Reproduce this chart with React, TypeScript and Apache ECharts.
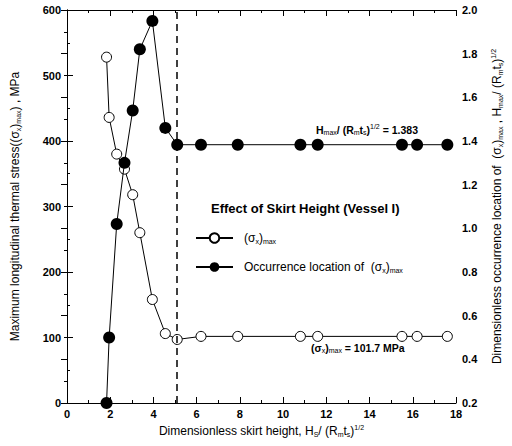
import React, { useEffect, useRef } from "react";
import * as echarts from "echarts";

// Dimensionless skirt height Hs/(Rm ts)^1/2
const skirtHeight = [1.83, 1.95, 2.3, 2.66, 3.04, 3.37, 3.95, 4.55, 5.1, 6.2, 7.9, 10.8, 11.6, 15.5, 16.2, 17.6];
// Maximum longitudinal thermal stress (MPa)
const stressMax = [528, 436, 380, 357, 318, 260, 158, 106, 97, 101.7, 101.7, 101.7, 101.7, 101.7, 101.7, 101.7];
// Dimensionless occurrence location Hmax/(Rm ts)^1/2
const locationMax = [0.2, 0.5, 1.02, 1.3, 1.54, 1.82, 1.95, 1.46, 1.383, 1.383, 1.383, 1.383, 1.383, 1.383, 1.383, 1.383];
const optimumHeight = 5.1;

const FONT = "Liberation Sans, Arial, Helvetica, sans-serif";

const rich = {
  sub: { fontSize: 7, lineHeight: 8, verticalAlign: "bottom", fontFamily: FONT, color: "#000" },
  sup: { fontSize: 7, lineHeight: 8, verticalAlign: "top", fontFamily: FONT, color: "#000" },
};

export default function App() {
  const ref = useRef<HTMLDivElement>(null);
  useEffect(() => {
    const chart = echarts.init(ref.current!, null, { renderer: "svg" });
    const stressData = skirtHeight.map((x, i) => [x, stressMax[i]]);
    const locData = skirtHeight.map((x, i) => [x, locationMax[i]]);
    const tickLabel = { color: "#000", fontFamily: FONT, fontSize: 11, fontWeight: "bold" as const };
    const axisLine = { show: true, lineStyle: { color: "#000", width: 1 } };
    const nameStyle = { color: "#000", fontFamily: FONT, fontSize: 12, lineHeight: 14, rich };
    chart.setOption({
      animation: false,
      backgroundColor: "#fff",
      grid: { left: 66, right: 50, top: 10, bottom: 43, show: false },
      title: {
        text: "Effect of Skirt Height (Vessel I)",
        left: 211,
        top: 202,
        padding: 0,
        textStyle: { fontFamily: FONT, fontSize: 13, fontWeight: "bold", color: "#000" },
      },
      legend: {
        orient: "vertical",
        left: 195,
        top: 231,
        itemWidth: 37,
        itemHeight: 12,
        itemGap: 15,
        padding: 0,
        data: ["stress", "location"],
        formatter: (name: string) =>
          name === "stress"
            ? "(σ{sub|x}){sub|max}"
            : "Occurrence location of  (σ{sub|x}){sub|max}",
        textStyle: { fontFamily: FONT, fontSize: 12, color: "#000", padding: [0, 0, 0, 6], lineHeight: 14, rich },
      },
      xAxis: [
        {
          type: "value",
          min: 0,
          max: 18,
          interval: 2,
          position: "bottom",
          axisLine,
          axisTick: { inside: true, length: 6, lineStyle: { color: "#000" } },
          minorTick: { show: true, splitNumber: 2, length: 3, lineStyle: { color: "#000" } },
          splitLine: { show: false },
          axisLabel: { ...tickLabel, margin: 5 },
          name: "Dimensionless skirt height, H{sub|S}/ (R{sub|m}t{sub|s}){sup|1/2}",
          nameLocation: "middle",
          nameGap: 21,
          nameTextStyle: nameStyle,
        },
        {
          type: "value",
          min: 0,
          max: 18,
          interval: 2,
          position: "top",
          axisLine,
          axisTick: { inside: true, length: 6, lineStyle: { color: "#000" } },
          minorTick: { show: true, splitNumber: 2, length: 3, lineStyle: { color: "#000" } },
          splitLine: { show: false },
          axisLabel: { show: false },
        },
      ],
      yAxis: [
        {
          type: "value",
          min: 0,
          max: 600,
          interval: 100,
          position: "left",
          axisLine,
          axisTick: { inside: true, length: 6, lineStyle: { color: "#000" } },
          minorTick: { show: true, splitNumber: 2, length: 3, lineStyle: { color: "#000" } },
          splitLine: { show: false },
          axisLabel: { ...tickLabel, margin: 6 },
          name: "Maximum longitudinal thermal stress((σ{sub|x}){sub|max}) , MPa",
          nameLocation: "middle",
          nameRotate: 90,
          nameGap: 45,
          nameTextStyle: nameStyle,
        },
        {
          type: "value",
          min: 0.2,
          max: 2.0,
          interval: 0.2,
          position: "right",
          axisLine,
          axisTick: { inside: true, length: 6, lineStyle: { color: "#000" } },
          minorTick: { show: true, splitNumber: 2, length: 3, lineStyle: { color: "#000" } },
          splitLine: { show: false },
          axisLabel: { ...tickLabel, margin: 6, formatter: (v: number) => v.toFixed(1) },
          name: "Dimensionless occurrence location of  (σ{sub|x}){sub|max} , H{sub|max}/ (R{sub|m}t{sub|s}){sup|1/2}",
          nameLocation: "middle",
          nameRotate: 90,
          nameGap: 34,
          nameTextStyle: nameStyle,
        },
      ],
      series: [
        {
          name: "stress",
          type: "line",
          xAxisIndex: 0,
          yAxisIndex: 0,
          data: stressData,
          symbol: "circle",
          symbolSize: 10,
          lineStyle: { color: "#000", width: 1 },
          itemStyle: { color: "#fff", borderColor: "#000", borderWidth: 1 },
          z: 3,
          markLine: {
            silent: true,
            symbol: "none",
            label: { show: false },
            lineStyle: { color: "#000", type: [7, 5], width: 1.5 },
            data: [{ xAxis: optimumHeight }],
          },
        },
        {
          name: "location",
          type: "line",
          xAxisIndex: 0,
          yAxisIndex: 1,
          data: locData,
          symbol: "circle",
          symbolSize: 12,
          lineStyle: { color: "#000", width: 1 },
          itemStyle: { color: "#000", borderColor: "#000", borderWidth: 0 },
          z: 4,
        },
      ],
      graphic: [
        {
          type: "text",
          left: 316,
          top: 123,
          style: {
            text: "H{sub|max}/ (R{sub|m}t{sub|s}){sup|1/2} = 1.383",
            fontFamily: FONT,
            fontSize: 10.5,
            fontWeight: "bold",
            fill: "#000",
            lineHeight: 13,
            rich,
          },
        },
        {
          type: "text",
          left: 311,
          top: 341,
          style: {
            text: "(σ{sub|x}){sub|max} = 101.7 MPa",
            fontFamily: FONT,
            fontSize: 10.5,
            fontWeight: "bold",
            fill: "#000",
            lineHeight: 13,
            rich,
          },
        },
      ],
    });
    return () => chart.dispose();
  }, []);
  return <div ref={ref} style={{ position: "fixed", left: 0, top: 0, width: 512, height: 446 }} />;
}
